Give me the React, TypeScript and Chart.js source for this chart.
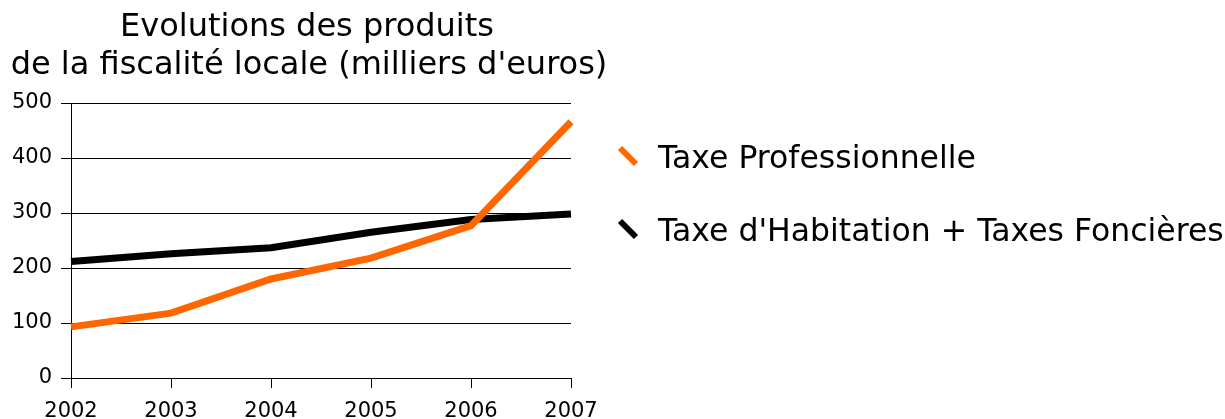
import React, { useEffect, useRef } from "react";
import { Chart, registerables } from "chart.js";

Chart.register(...registerables);

const years = ["2002", "2003", "2004", "2005", "2006", "2007"];
const taxeProfessionnelle = [93, 118, 180, 218, 277, 466];
const taxeHabitationFoncieres = [212, 226, 237, 265, 288, 298];
const seriesNames = ["Taxe Professionnelle", "Taxe d'Habitation + Taxes Foncières"];
const seriesColors = ["#ff6600", "#000000"];
const titleLines = ["Evolutions des produits", "de la fiscalité locale (milliers d'euros)"];
const yMin = 0;
const yMax = 500;
const yStep = 100;

const FONT = '"DejaVu Sans", sans-serif';

const overlayPlugin = {
  id: "overlayTitleLegend",
  afterDraw(chart: any) {
    const ctx = chart.ctx as CanvasRenderingContext2D;
    ctx.save();
    ctx.fillStyle = "#000";
    ctx.font = `32px ${FONT}`;
    ctx.textAlign = "center";
    ctx.textBaseline = "alphabetic";
    ctx.fillText(titleLines[0], 307, 36);
    ctx.fillText(titleLines[1], 309, 74);

    ctx.font = `31.5px ${FONT}`;
    ctx.textAlign = "left";
    chart.data.datasets.forEach((ds: any, i: number) => {
      const y0 = 148 + i * 73;
      ctx.beginPath();
      ctx.strokeStyle = ds.borderColor;
      ctx.lineWidth = 6;
      ctx.lineCap = "butt";
      ctx.moveTo(620, y0);
      ctx.lineTo(636, y0 + 16);
      ctx.stroke();
      ctx.fillStyle = "#000";
      ctx.fillText(ds.label, 658, 168 + i * 73);
    });
    ctx.restore();
  },
};

export default function App() {
  const canvasRef = useRef<HTMLCanvasElement | null>(null);

  useEffect(() => {
    if (!canvasRef.current) return;
    Chart.defaults.font.family = FONT;
    const chart = new Chart(canvasRef.current, {
      type: "line",
      data: {
        labels: years,
        datasets: [
          {
            label: seriesNames[0],
            data: taxeProfessionnelle,
            borderColor: seriesColors[0],
            backgroundColor: seriesColors[0],
            borderWidth: 7,
            pointRadius: 0,
            tension: 0,
            fill: false,
          },
          {
            label: seriesNames[1],
            data: taxeHabitationFoncieres,
            borderColor: seriesColors[1],
            backgroundColor: seriesColors[1],
            borderWidth: 7,
            pointRadius: 0,
            tension: 0,
            fill: false,
          },
        ],
      },
      options: {
        animation: false,
        responsive: true,
        maintainAspectRatio: false,
        layout: { padding: { top: 103, right: 654, left: 0, bottom: 0 } },
        plugins: {
          legend: { display: false },
          title: { display: false },
          tooltip: { enabled: false },
        },
        scales: {
          x: {
            type: "category",
            offset: false,
            grid: {
              drawOnChartArea: false,
              drawTicks: true,
              tickLength: 10,
              color: "#000",
            },
            border: { color: "#000", width: 1 },
            ticks: {
              color: "#000",
              font: { size: 21, family: FONT },
              padding: 11,
              maxRotation: 0,
              autoSkip: false,
            },
            afterFit: (scale: any) => {
              scale.height = 41;
            },
          },
          y: {
            min: yMin,
            max: yMax,
            grid: {
              color: "#000",
              lineWidth: 1,
              tickLength: 10,
            },
            border: { color: "#000", width: 1 },
            ticks: {
              stepSize: yStep,
              color: "#000",
              font: { size: 21, family: FONT },
              padding: 9,
            },
            afterFit: (scale: any) => {
              scale.width = 71;
            },
          },
        },
      },
      plugins: [overlayPlugin],
    });
    return () => chart.destroy();
  }, []);

  return (
    <div style={{ position: "fixed", left: 0, top: 0, width: 1225, height: 419, background: "#fff" }}>
      <canvas ref={canvasRef} />
    </div>
  );
}
